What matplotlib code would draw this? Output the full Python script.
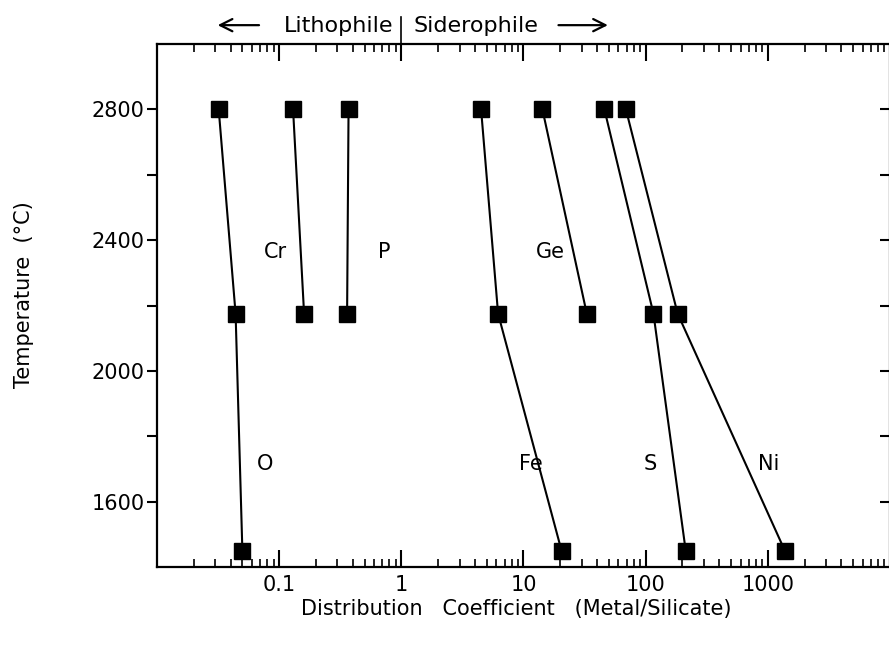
import numpy as np
import matplotlib
matplotlib.use("Agg")
import matplotlib.pyplot as plt
from matplotlib.ticker import FixedLocator, LogLocator, NullFormatter

plt.rcParams['font.family'] = ['DejaVu Sans']
plt.rcParams['font.size'] = 15

# Temperatures of the three experiment sets (deg C)
temps = [2800, 2175, 1450]

# Metal/silicate distribution coefficients, one list per element (hot -> cold)
O = [0.032, 0.044, 0.050]
Cr = [0.13, 0.16]
P = [0.37, 0.36]
Fe = [4.5, 6.2, 20.5]
Ge = [14.3, 33.0]
S = [46, 116, 213]
Ni = [69, 183, 1380]

names = ["O", "Cr", "P", "Fe", "Ge", "S", "Ni"]
series = [O, Cr, P, Fe, Ge, S, Ni]

# where the element names are written
label_x = [0.077, 0.093, 0.73, 11.4, 16.6, 110, 1020]
label_y = [1716, 2363, 2363, 1716, 2363, 1716, 1716]

x_ticks = [0.1, 1, 10, 100, 1000]
x_ticklabels = ["0.1", "1", "10", "100", "1000"]
y_ticks = [1600, 2000, 2400, 2800]
y_minor = [1800, 2200, 2600]
y_right = [1600, 1800, 2000, 2200, 2400, 2600, 2800]

fig = plt.figure(figsize=(8.89, 6.45), dpi=100)
ax = fig.add_axes([0.1766, 0.1209, 1.001 - 0.1766, 0.9318 - 0.1209])

for vals in series:
    ax.plot(vals, temps[:len(vals)], color='black', lw=1.5,
            marker='s', ms=12, mfc='black', mec='black')

for name, lx, ly in zip(names, label_x, label_y):
    ax.text(lx, ly, name, ha='center', va='center')

ax.set_xscale('log')
ax.set_xlim(0.01, 10000)
ax.set_ylim(1400, 3000)

ax.xaxis.set_major_locator(FixedLocator(x_ticks))
ax.set_xticklabels(x_ticklabels)
ax.xaxis.set_minor_locator(LogLocator(base=10, subs=np.arange(2, 10), numticks=20))
ax.xaxis.set_minor_formatter(NullFormatter())
ax.set_yticks(y_ticks)
ax.yaxis.set_minor_locator(FixedLocator(y_minor))

ax.tick_params(axis='x', which='both', direction='in', top=True, bottom=True, pad=6)
ax.tick_params(axis='x', which='major', length=12, width=1.5)
ax.tick_params(axis='x', which='minor', length=6, width=1.2)
ax.tick_params(axis='y', which='both', direction='out', left=True, right=False,
               length=7, width=1.5, pad=2)

# right side has inward ticks every 200 without labels
sec = ax.secondary_yaxis('right')
sec.set_yticks(y_right)
sec.set_yticklabels([])
sec.tick_params(direction='in', length=7, width=1.5)

for sp in ax.spines.values():
    sp.set_linewidth(1.6)

ax.set_xlabel("Distribution   Coefficient   (Metal/Silicate)")
ax.xaxis.set_label_coords(0.49, -0.062)
ax.set_ylabel("Temperature  (\u00b0C)")
ax.yaxis.set_label_coords(-0.168, 0.52)

# Lithophile / Siderophile header
ax.plot([1, 1], [1.0, 1.052], color='black', lw=1.2, clip_on=False,
        transform=ax.get_xaxis_transform())
ax.annotate("Lithophile", xy=(1, 1.034), xycoords=('data', 'axes fraction'),
            xytext=(-6, 0), textcoords='offset points', ha='right', va='center',
            fontsize=16)
ax.annotate("Siderophile", xy=(1, 1.034), xycoords=('data', 'axes fraction'),
            xytext=(9, 0), textcoords='offset points', ha='left', va='center',
            fontsize=16)
ax.annotate("", xy=(0.079, 1.036), xytext=(0.143, 1.036), xycoords='axes fraction',
            arrowprops=dict(arrowstyle='->', lw=1.6, mutation_scale=22, color='black'))
ax.annotate("", xy=(0.619, 1.036), xytext=(0.544, 1.036), xycoords='axes fraction',
            arrowprops=dict(arrowstyle='->', lw=1.6, mutation_scale=22, color='black'))

fig.savefig("out.png", dpi=100)
